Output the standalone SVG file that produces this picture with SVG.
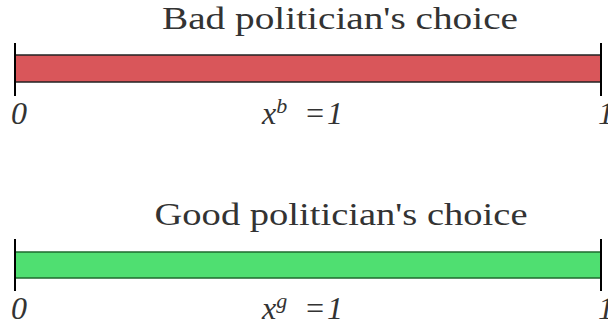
<svg xmlns="http://www.w3.org/2000/svg" width="608" height="332" viewBox="0 0 608 332">
<style>
.title{font-family:"Liberation Serif","DejaVu Serif",serif;font-size:32px;fill:#333;text-anchor:middle}
.lab{font-family:"Liberation Serif","DejaVu Serif",serif;font-style:italic;font-size:32px;fill:#333}
.tick{stroke:#000;stroke-width:2}
</style>
<rect width="608" height="332" fill="#fff"/>
<g id="bad">
<text class="title" x="340" y="29" textLength="356" lengthAdjust="spacingAndGlyphs">Bad politician's choice</text>
<rect x="15" y="55" width="586" height="27" fill="#d9565a" stroke="#222" stroke-width="1.5"/>
<line class="tick" x1="15" y1="43" x2="15" y2="96"/>
<line class="tick" x1="601" y1="43" x2="601" y2="96"/>
<text class="lab" x="11" y="124">0</text>
<text class="lab" x="262" y="124">x<tspan font-size="22" dy="-11">b</tspan><tspan x="304" dy="11">=</tspan><tspan x="327">1</tspan></text>
<text class="lab" x="598" y="124">1</text>
</g>
<g id="good">
<text class="title" x="341" y="225" textLength="373" lengthAdjust="spacingAndGlyphs">Good politician's choice</text>
<rect x="15" y="252" width="586" height="26" fill="#4fdf71" stroke="#1e6b2e" stroke-width="1.5"/>
<line class="tick" x1="15" y1="239" x2="15" y2="291"/>
<line class="tick" x1="601" y1="239" x2="601" y2="291"/>
<text class="lab" x="11" y="319">0</text>
<text class="lab" x="262" y="319">x<tspan font-size="22" dy="-11">g</tspan><tspan x="304" dy="11">=</tspan><tspan x="327">1</tspan></text>
<text class="lab" x="598" y="319">1</text>
</g>
</svg>
